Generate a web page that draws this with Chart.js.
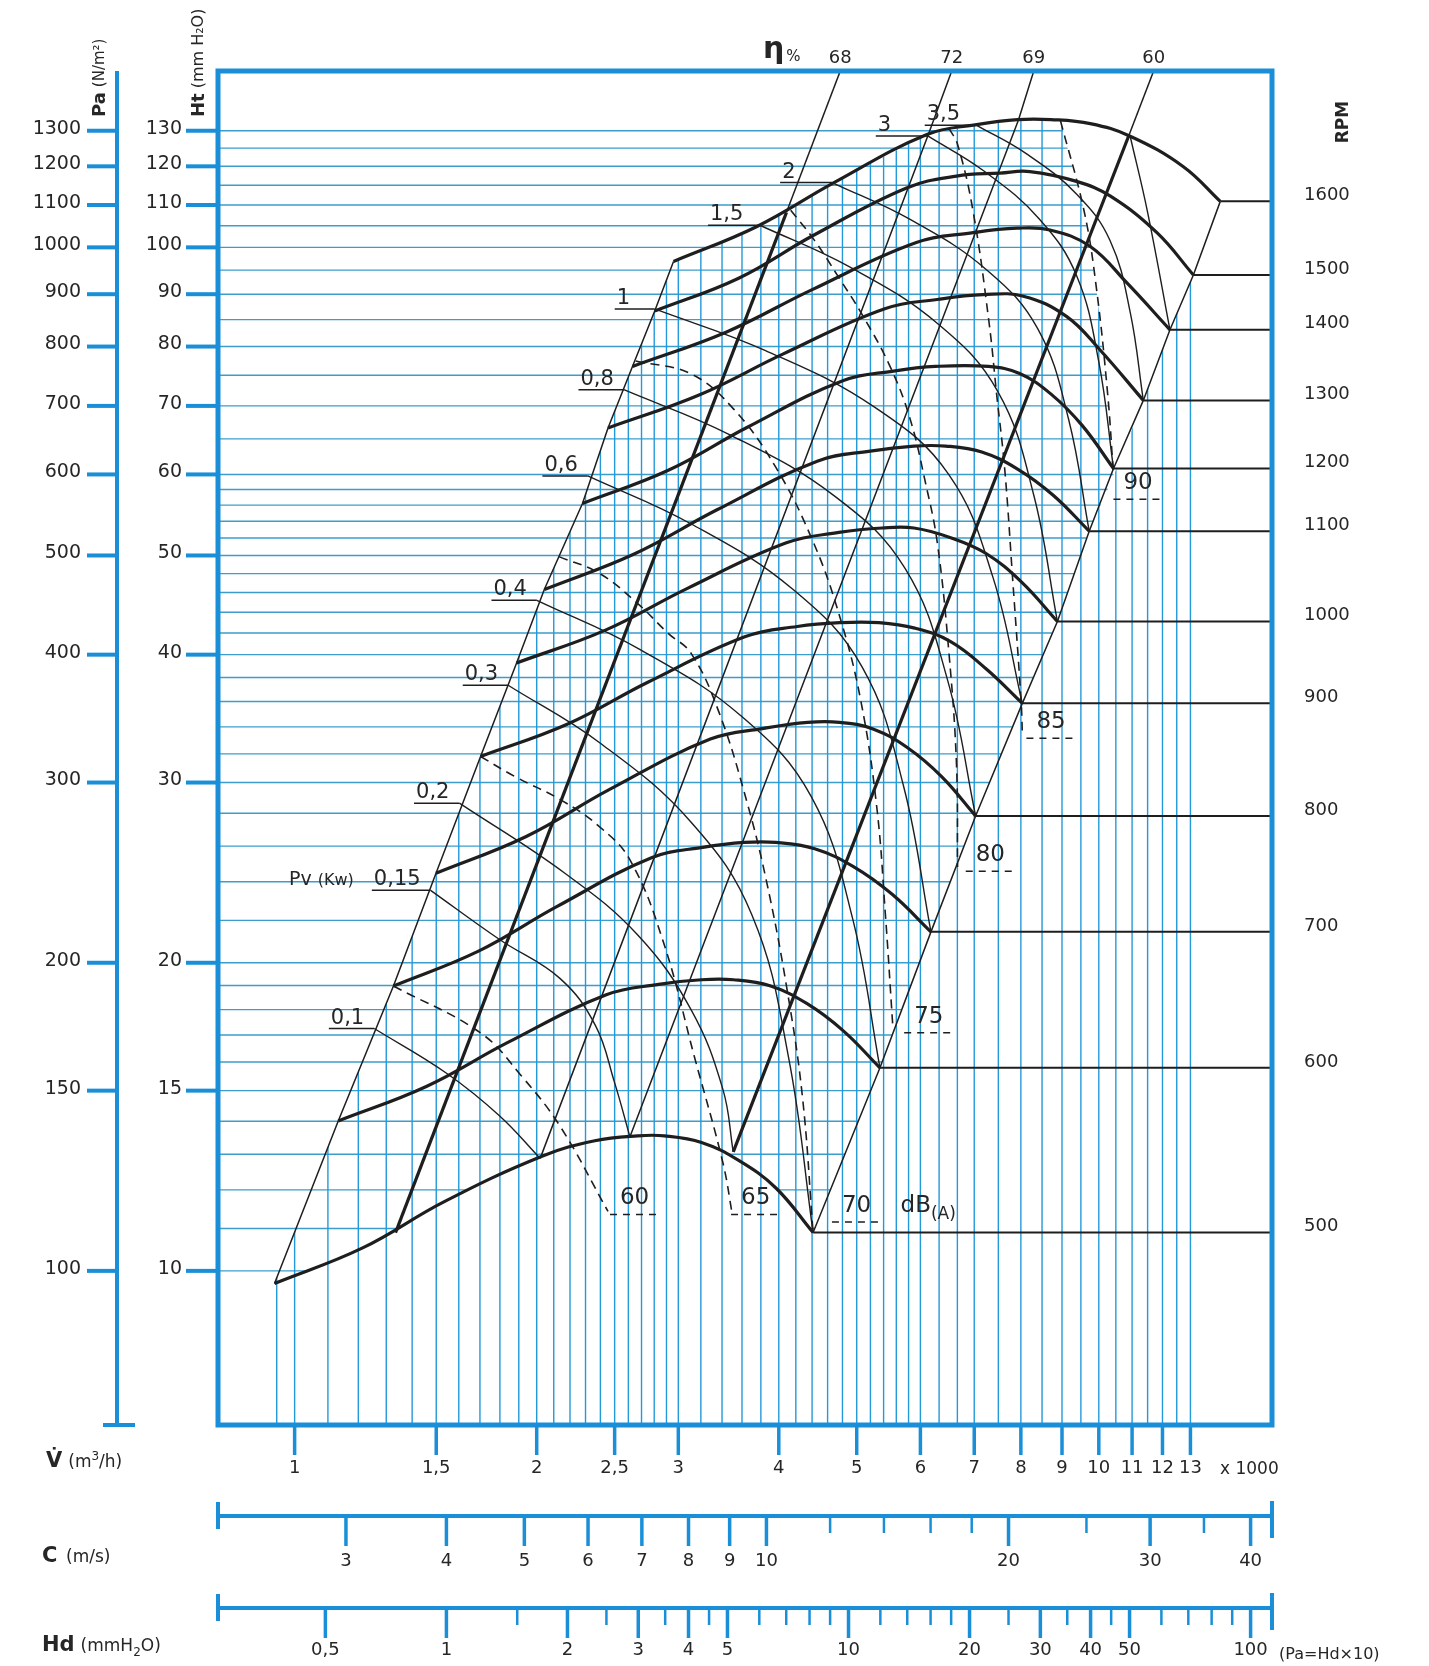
<!DOCTYPE html>
<html>
<head>
<meta charset="utf-8">
<title>Fan performance chart</title>
<script src="https://cdn.jsdelivr.net/npm/chart.js@4.4.1/dist/chart.umd.min.js"></script>
<style>
  html, body { margin: 0; padding: 0; background: #fff; }
  canvas { display: block; }
</style>
</head>
<body>
<canvas id="fan" width="1429" height="1666"></canvas>
<script>
// Ht (mm H2O) against V (m3/h x 1000), both log scales

const rpmValues = [500, 600, 700, 800, 900, 1000, 1100, 1200, 1300, 1400, 1500, 1600]

// [V x1000 m3/h, Ht mm H2O], left corner first, right corner last
const curve500 = [[0.944, 9.72], [1.215, 10.53], [1.533, 11.68], [2.034, 12.95], [2.362, 13.40], [2.671, 13.55], [2.883, 13.55], [3.206, 13.35], [3.566, 12.82], [3.967, 12.05], [4.413, 10.90]]
const curve600 = [[1.133, 14.01], [1.458, 15.14], [1.839, 16.71], [2.441, 18.61], [2.835, 19.05], [3.206, 19.25], [3.513, 19.25], [3.900, 18.99], [4.333, 18.25], [4.812, 17.16], [5.344, 15.79]]
const curve700 = [[1.327, 18.98], [1.693, 20.53], [2.118, 22.69], [2.783, 25.34], [3.217, 25.93], [3.622, 26.22], [3.967, 26.22], [4.433, 25.85], [4.953, 24.83], [5.534, 23.33], [6.184, 21.44]]
const curve800 = [[1.499, 24.46], [1.941, 26.57], [2.461, 29.52], [3.288, 33.08], [3.833, 33.89], [4.346, 34.35], [4.761, 34.35], [5.248, 33.83], [5.784, 32.44], [6.376, 30.40], [7.028, 27.83]]
const curve900 = [[1.703, 31.81], [2.186, 34.22], [2.749, 37.59], [3.636, 41.66], [4.217, 42.62], [4.761, 42.99], [5.328, 42.99], [5.905, 42.46], [6.543, 41.19], [7.252, 38.71], [8.033, 35.85]]
const curve1000 = [[1.888, 39.26], [2.435, 42.27], [3.075, 46.41], [4.088, 51.44], [4.752, 52.66], [5.377, 53.19], [5.890, 53.19], [6.529, 52.07], [7.233, 50.25], [8.017, 47.09], [8.882, 43.10]]
const curve1100 = [[2.044, 46.31], [2.644, 50.17], [3.347, 55.38], [4.465, 61.81], [5.198, 63.24], [5.890, 63.95], [6.453, 63.95], [7.152, 63.10], [7.925, 60.73], [8.783, 57.23], [9.729, 52.81]]
const curve1200 = [[2.280, 56.20], [2.915, 60.56], [3.651, 66.68], [4.804, 74.09], [5.556, 75.71], [6.260, 76.50], [7.289, 76.50], [7.972, 75.29], [8.722, 71.88], [9.539, 66.96], [10.43, 60.81]]
const curve1300 = [[2.453, 66.61], [3.184, 71.73], [4.046, 78.65], [5.418, 87.10], [6.324, 88.98], [7.178, 89.90], [8.058, 89.60], [9.115, 85.62], [10.03, 79.43], [11.36, 70.87]]
const curve1400 = [[2.631, 76.50], [3.439, 82.63], [4.395, 90.88], [5.931, 101.1], [6.948, 103.3], [7.912, 104.4], [8.695, 104.0], [9.759, 100.2], [10.84, 92.30], [12.26, 83.07]]
const curve1500 = [[2.804, 86.65], [3.566, 93.30], [4.413, 102.7], [5.767, 114.3], [6.653, 117.4], [7.537, 118.2], [8.208, 118.6], [9.382, 116.0], [10.34, 112.2], [11.82, 103.3], [13.11, 93.98]]
const curve1600 = [[2.959, 96.87], [3.758, 104.8], [4.679, 115.6], [6.113, 128.9], [7.049, 131.8], [7.927, 133.3], [8.720, 133.3], [9.757, 132.1], [10.94, 128.4], [12.74, 119.9], [14.16, 110.9]]
const rpmCurves = [curve500, curve600, curve700, curve800, curve900, curve1000, curve1100, curve1200, curve1300, curve1400, curve1500, curve1600]

// efficiency lines (eta %), bottom point, point on the top curve, top edge
const effLabels = ['68', '72', '69', '60']
const eff68 = [[1.335, 10.90], [4.089, 108.2], [4.790, 150]]
const eff72 = [[2.020, 12.88], [6.128, 128.5], [6.590, 150]]
const eff69 = [[2.612, 13.52], [7.945, 133.2], [8.330, 150]]
const eff60 = [[3.511, 13.07], [10.89, 128.4], [11.75, 150]]
const effLines = [eff68, eff72, eff69, eff60]
const effThick = [true, false, false, true]

// shaft power lines Pv (kW); the last one carries no label
const powerLabels = ['0,1', '0,15', '0,2', '0,3', '0,4', '0,6', '0,8', '1', '1,5', '2', '3', '3,5', '']
const pw01 = [[1.256, 17.25], [1.545, 15.60], [1.799, 14.17], [2.020, 12.88]]
const pw015 = [[1.476, 23.54], [1.802, 21.05], [2.139, 19.30], [2.365, 17.38], [2.498, 15.30], [2.612, 13.52]]
const pw02 = [[1.603, 28.64], [2.168, 24.46], [2.671, 21.29], [3.110, 18.01], [3.408, 15.05], [3.511, 13.07]]
const pw03 = [[1.843, 37.34], [2.395, 32.81], [3.112, 27.44], [3.705, 22.26], [4.114, 16.16], [4.413, 10.90]]
const pw04 = [[2.001, 45.20], [2.686, 40.48], [3.607, 34.75], [4.390, 29.06], [4.940, 22.11], [5.344, 15.79]]
const pw06 = [[2.315, 59.80], [3.109, 53.70], [4.175, 46.26], [5.081, 38.87], [5.717, 29.77], [6.184, 21.44]]
const pw08 = [[2.567, 72.60], [3.473, 65.63], [4.698, 57.11], [5.745, 48.53], [6.483, 37.82], [7.028, 27.83]]
const pw1 = [[2.804, 87.06], [3.845, 79.31], [5.273, 69.73], [6.509, 59.98], [7.384, 47.62], [8.033, 35.85]]
const pw15 = [[3.790, 105.1], [4.893, 95.74], [6.317, 84.12], [7.490, 72.29], [8.297, 57.35], [8.882, 43.10]]
const pw2 = [[4.660, 115.7], [5.811, 106.6], [7.250, 95.10], [8.398, 83.24], [9.173, 67.89], [9.729, 52.81]]
const pw3 = [[6.128, 128.5], [7.190, 118.8], [8.433, 106.6], [9.382, 93.86], [10.00, 77.29], [10.43, 60.81]]
const pw35 = [[7.050, 131.6], [8.133, 123.4], [9.387, 112.7], [10.33, 101.5], [10.94, 86.43], [11.36, 70.87]]
const pwTop = [[10.94, 128.4], [11.50, 108.2], [12.26, 83.07]]
const powerLines = [pw01, pw015, pw02, pw03, pw04, pw06, pw08, pw1, pw15, pw2, pw3, pw35, pwTop]

// noise lines dB(A), dashed
const dbLabels = ['60', '65', '70', '75', '80', '85', '90']
const db60 = [[1.327, 18.98], [1.703, 17.08], [1.911, 15.53], [2.139, 13.84], [2.453, 11.43]]
const db65 = [[1.703, 31.81], [1.880, 30.40], [2.145, 28.84], [2.393, 27.17], [2.612, 25.21], [2.873, 20.98], [3.148, 16.09], [3.408, 12.76], [3.502, 11.35]]
const db70 = [[2.132, 49.87], [2.393, 48.03], [2.669, 44.89], [2.914, 41.97], [3.112, 40.12], [3.371, 35.13], [3.649, 28.77], [3.863, 23.99], [4.089, 18.98], [4.280, 14.80], [4.413, 10.90]]
const db75 = [[2.655, 77.43], [3.110, 75.23], [3.513, 69.54], [3.967, 60.95], [4.413, 51.57], [4.761, 43.62], [5.060, 36.03], [5.296, 28.36], [5.427, 22.33], [5.543, 17.38]]
const db80 = [[4.139, 108.7], [4.426, 101.7], [4.747, 93.52], [5.075, 86.03], [5.493, 76.68], [5.818, 68.22], [6.090, 58.81], [6.298, 51.44], [6.512, 40.11], [6.653, 31.28], [6.673, 24.81]]
const db85 = [[6.512, 130.7], [6.673, 126.1], [6.975, 108.6], [7.300, 84.69], [7.466, 71.71], [7.638, 60.76], [7.815, 47.36], [8.008, 35.85], [8.033, 33.53]]
const db90 = [[8.962, 132.9], [9.583, 108.7], [9.918, 92.03], [10.26, 71.71], [10.43, 59.80]]
const dbLines = [db60, db65, db70, db75, db80, db85, db90]
const dbLabelAt = [[2.647, 11.77], [3.744, 11.77], [4.998, 11.57], [6.146, 17.71], [7.331, 25.47], [8.722, 34.35], [11.19, 58.81]]

// axes
const vTicks = [1, 1.5, 2, 2.5, 3, 4, 5, 6, 7, 8, 9, 10, 11, 12, 13]
const htTicks = [10, 15, 20, 30, 40, 50, 60, 70, 80, 90, 100, 110, 120, 130]
const paTicks = [100, 150, 200, 300, 400, 500, 600, 700, 800, 900, 1000, 1100, 1200, 1300]
const cTicks = [3, 4, 5, 6, 7, 8, 9, 10, 20, 30, 40]
const cMinor = [12, 14, 16, 18, 25, 35]
const hdTicks = [0.5, 1, 2, 3, 4, 5, 10, 20, 30, 40, 50, 100]
const hdMinor = [1.5, 2.5, 3.5, 4.5, 6, 7, 8, 9, 12, 14, 16, 18, 25, 35, 45, 60, 70, 80, 90]

// blue paper grid
const gridH = [10, 11, 12, 13, 14, 15, 16, 17, 18, 19, 20, 22, 24, 26, 28, 30, 32, 34, 36, 38, 40, 42, 44, 46, 48, 50, 52, 54, 56, 58, 60, 65, 70, 75, 80, 85, 90, 95, 100, 105, 110, 115, 120, 125, 130]
const gridV = [0.95, 1, 1.1, 1.2, 1.3, 1.4, 1.5, 1.6, 1.7, 1.8, 1.9, 2, 2.1, 2.2, 2.3, 2.4, 2.5, 2.6, 2.7, 2.8, 2.9, 3, 3.2, 3.4, 3.6, 3.8, 4, 4.2, 4.4, 4.6, 4.8, 5, 5.2, 5.4, 5.6, 5.8, 6, 6.33, 6.67, 7, 7.5, 8, 8.5, 9, 9.5, 10, 10.5, 11, 11.5, 12, 12.5, 13]

const X_MIN = 0.803
const X_MAX = 16.42
const Y_MIN = 7.07
const Y_MAX = 148.7
const K_C = 2.59    // C (m/s) for 1000 m3/h
const K_HD = 16     // Hd = C^2 / 16

const FONT = "'DejaVu Sans', 'Liberation Sans', sans-serif"
const BLUE = '#1a8fd8'
const GRID_H = '#3a9dcc'
const GRID_V = '#2399da'
const INK = '#1e1e1e'
const TEXT = '#262626'

function xy (pts) {
  return pts.map(p => ({ x: p[0], y: p[1] }))
}

function fmt (v) {
  return String(v).replace('.', ',')
}

function seg (ctx, x1, y1, x2, y2) {
  ctx.beginPath()
  ctx.moveTo(x1, y1)
  ctx.lineTo(x2, y2)
  ctx.stroke()
}

function toPx (chart, p) {
  return [chart.scales.x.getPixelForValue(p[0]), chart.scales.y.getPixelForValue(p[1])]
}

function clipTo (ctx, poly) {
  ctx.beginPath()
  poly.forEach((p, i) => i ? ctx.lineTo(p[0], p[1]) : ctx.moveTo(p[0], p[1]))
  ctx.closePath()
  ctx.clip()
}

function drawGrid (chart) {
  const ctx = chart.ctx
  const a = chart.chartArea
  const P = p => toPx(chart, p)
  const lefts = rpmCurves.map(c => c[0])
  const rights = rpmCurves.map(c => c[c.length - 1])

  // horizontal lines run from the frame to the 90 dB line and the right boundary
  let hPoly = [[a.left, a.top], [P(db90[0])[0], a.top]]
  db90.forEach(p => hPoly.push(P(p)))
  for (let i = 6; i >= 0; i--) hPoly.push(P(rights[i]))
  for (let i = curve500.length - 2; i >= 0; i--) hPoly.push(P(curve500[i]))
  hPoly.push([a.left, P(curve500[0])[1]])

  // vertical lines run from the bottom frame up to the edge of the field
  let vPoly = [[P(lefts[0])[0], a.bottom]]
  lefts.forEach(p => vPoly.push(P(p)))
  curve1600.slice(1).filter(p => p[0] < db90[0][0]).forEach(p => vPoly.push(P(p)))
  db90.forEach(p => vPoly.push(P(p)))
  for (let i = 8; i < rights.length; i++) vPoly.push(P(rights[i]))
  vPoly.push([P(rights[rights.length - 1])[0], a.bottom])

  ctx.save()
  ctx.lineWidth = 1.4
  ctx.strokeStyle = GRID_H
  clipTo(ctx, hPoly)
  gridH.forEach(h => {
    let y = chart.scales.y.getPixelForValue(h)
    seg(ctx, a.left, y, a.right, y)
  })
  ctx.restore()

  ctx.save()
  ctx.lineWidth = 1.4
  ctx.strokeStyle = GRID_V
  clipTo(ctx, vPoly)
  gridV.forEach(v => {
    let x = chart.scales.x.getPixelForValue(v)
    seg(ctx, x, a.top, x, a.bottom)
  })
  ctx.restore()
}

function topCrossing (chart, pts) {
  const p1 = toPx(chart, pts[pts.length - 2])
  const p2 = toPx(chart, pts[pts.length - 1])
  const t = (chart.chartArea.top - p1[1]) / (p2[1] - p1[1])
  return p1[0] + t * (p2[0] - p1[0])
}

function drawLabels (chart) {
  const ctx = chart.ctx
  const a = chart.chartArea
  const P = p => toPx(chart, p)
  ctx.save()
  ctx.fillStyle = TEXT
  ctx.strokeStyle = INK

  // power labels sit on an underline that runs to the start of each line
  ctx.font = '21px ' + FONT
  ctx.textAlign = 'left'
  ctx.textBaseline = 'alphabetic'
  ctx.lineWidth = 1.5
  let pvLeft = 0
  let pvBase = 0
  powerLines.forEach((pl, i) => {
    if (!powerLabels[i]) return
    const s = P(pl[0])
    const w = ctx.measureText(powerLabels[i]).width
    const len = Math.max(w + 12, i >= 8 ? 52 : 40)
    ctx.fillText(powerLabels[i], s[0] - len + 2, s[1] - 5)
    seg(ctx, s[0] - len, s[1], s[0], s[1])
    if (powerLabels[i] === '0,15') {
      pvLeft = s[0] - len + 2
      pvBase = s[1] - 5
    }
  })
  ctx.textAlign = 'right'
  ctx.font = '16px ' + FONT
  ctx.fillText('(Kw)', pvLeft - 20, pvBase)
  const kw = ctx.measureText('(Kw)').width
  ctx.font = '19px ' + FONT
  ctx.fillText('Pv', pvLeft - 26 - kw, pvBase)

  // noise labels with dashed underline
  ctx.textAlign = 'center'
  ctx.textBaseline = 'middle'
  ctx.font = '23px ' + FONT
  ctx.lineWidth = 1.5
  dbLabels.forEach((lab, i) => {
    const c = P(dbLabelAt[i])
    const w = ctx.measureText(lab).width
    ctx.fillText(lab, c[0], c[1])
    ctx.setLineDash([7, 6])
    seg(ctx, c[0] - w / 2 - 10, c[1] + 16, c[0] + w / 2 + 12, c[1] + 16)
    ctx.setLineDash([])
  })
  const d70 = P(dbLabelAt[2])
  ctx.textAlign = 'left'
  ctx.fillText('dB', d70[0] + 44, d70[1])
  const dbw = ctx.measureText('dB').width
  ctx.font = '17px ' + FONT
  ctx.fillText('(A)', d70[0] + 44 + dbw, d70[1] + 9)

  // efficiency labels above the frame
  ctx.textAlign = 'center'
  ctx.textBaseline = 'alphabetic'
  ctx.font = '18px ' + FONT
  let x68 = 0
  effLines.forEach((e, i) => {
    const x = topCrossing(chart, e)
    if (i === 0) x68 = x
    ctx.fillText(effLabels[i], x, a.top - 8)
  })
  ctx.textAlign = 'left'
  ctx.font = '15px ' + FONT
  ctx.fillText('%', x68 - 54, a.top - 10)
  ctx.textAlign = 'right'
  ctx.font = 'bold 30px ' + FONT
  ctx.fillText('η', x68 - 56, a.top - 13)
  ctx.restore()
}

function rotatedTitle (ctx, bold, rest, x, yBottom, size) {
  ctx.save()
  ctx.translate(x, yBottom)
  ctx.rotate(-Math.PI / 2)
  ctx.textAlign = 'left'
  ctx.textBaseline = 'middle'
  ctx.font = 'bold 18px ' + FONT
  ctx.fillText(bold, 0, 0)
  const w = ctx.measureText(bold).width
  ctx.font = size + 'px ' + FONT
  ctx.fillText(rest, w + 5, 0)
  ctx.restore()
}

function drawFrame (chart) {
  const ctx = chart.ctx
  const a = chart.chartArea
  const sc = chart.scales
  ctx.save()
  ctx.strokeStyle = BLUE
  ctx.lineCap = 'butt'

  ctx.lineWidth = 5
  ctx.strokeRect(a.left, a.top, a.right - a.left, a.bottom - a.top)

  // flow ticks under the frame
  ctx.lineWidth = 3.5
  vTicks.forEach(v => {
    let x = sc.x.getPixelForValue(v)
    seg(ctx, x, a.bottom, x, a.bottom + 30)
  })

  // Ht ticks
  ctx.lineWidth = 4
  htTicks.forEach(h => {
    let y = sc.y.getPixelForValue(h)
    seg(ctx, a.left - 32, y, a.left, y)
  })

  // Pa axis
  const px = sc.yPa.right
  seg(ctx, px, a.top, px, a.bottom)
  seg(ctx, px - 14, a.bottom, px + 18, a.bottom)
  paTicks.forEach(p => {
    let y = sc.yPa.getPixelForValue(p)
    seg(ctx, px - 30, y, px, y)
  })

  // C and Hd axes
  const bars = [[sc.xC, cTicks, cMinor], [sc.xHd, hdTicks, hdMinor]]
  bars.forEach(b => {
    const s = b[0]
    const y0 = s.top
    ctx.lineWidth = 4
    seg(ctx, a.left, y0, a.right, y0)
    seg(ctx, a.left, y0 - 14, a.left, y0 + 13)
    seg(ctx, a.right, y0 - 15, a.right, y0 + 22)
    ctx.lineWidth = 3.5
    b[1].forEach(v => {
      let x = s.getPixelForValue(v)
      seg(ctx, x, y0, x, y0 + 30)
    })
    ctx.lineWidth = 2.5
    b[2].forEach(v => {
      let x = s.getPixelForValue(v)
      seg(ctx, x, y0, x, y0 + 17)
    })
  })
  ctx.restore()

  // axis titles
  ctx.save()
  ctx.fillStyle = TEXT
  rotatedTitle(ctx, 'Pa', '(N/m²)', 100, 117, 15)
  rotatedTitle(ctx, 'Ht', '(mm H₂O)', 199, 117, 16)
  ctx.save()
  ctx.translate(1344, 122)
  ctx.rotate(-Math.PI / 2)
  ctx.font = 'bold 17px ' + FONT
  ctx.textAlign = 'center'
  ctx.textBaseline = 'middle'
  ctx.fillText('RPM', 0, 0)
  ctx.restore()

  ctx.textAlign = 'left'
  ctx.textBaseline = 'alphabetic'
  let x = 46
  ctx.font = 'bold 21px ' + FONT
  ctx.fillText('V\u0307', x, 1467)
  x += ctx.measureText('V\u0307').width + 6
  ctx.font = '17px ' + FONT
  ctx.fillText('(m', x, 1467)
  x += ctx.measureText('(m').width
  ctx.font = '12px ' + FONT
  ctx.fillText('3', x, 1460)
  x += ctx.measureText('3').width
  ctx.font = '17px ' + FONT
  ctx.fillText('/h)', x, 1467)

  ctx.font = 'bold 21px ' + FONT
  ctx.fillText('C', 42, 1562)
  ctx.font = '17px ' + FONT
  ctx.fillText('(m/s)', 42 + 24, 1562)

  x = 42
  ctx.font = 'bold 21px ' + FONT
  ctx.fillText('Hd', x, 1651)
  x += ctx.measureText('Hd').width + 6
  ctx.font = '17px ' + FONT
  ctx.fillText('(mmH', x, 1651)
  x += ctx.measureText('(mmH').width
  ctx.font = '12px ' + FONT
  ctx.fillText('2', x, 1656)
  x += ctx.measureText('2').width
  ctx.font = '17px ' + FONT
  ctx.fillText('O)', x, 1651)

  ctx.font = '17px ' + FONT
  ctx.fillText('x 1000', 1220, 1474)
  ctx.font = '16px ' + FONT
  ctx.fillText('(Pa=Hd×10)', 1279, 1659)
  ctx.restore()
}

const fanPlugin = {
  id: 'fanPaper',
  beforeDraw (chart) {
    const ctx = chart.ctx
    ctx.save()
    ctx.fillStyle = '#ffffff'
    ctx.fillRect(0, 0, chart.width, chart.height)
    ctx.restore()
  },
  beforeDatasetsDraw (chart) {
    drawGrid(chart)
  },
  afterDatasetsDraw (chart) {
    drawLabels(chart)
    drawFrame(chart)
  }
}

// datasets
let datasets = []
function addLine (pts, opts) {
  datasets.push(Object.assign({
    data: xy(pts),
    showLine: true,
    borderColor: INK,
    borderWidth: 1.5,
    pointRadius: 0,
    fill: false,
    borderJoinStyle: 'round'
  }, opts))
}

rpmCurves.forEach(c => {
  addLine(c, { borderWidth: 3.2, tension: 0.4 })
  const r = c[c.length - 1]
  addLine([r, [X_MAX, r[1]]], { borderWidth: 2 })
})
addLine(rpmCurves.map(c => c[0]), { borderWidth: 1.5 })
addLine(rpmCurves.map(c => c[c.length - 1]), { borderWidth: 1.5 })
effLines.forEach((e, i) => {
  addLine(e, {
    borderWidth: 1.5,
    segment: { borderWidth: ctx => (effThick[i] && ctx.p0DataIndex === 0) ? 3.2 : 1.5 }
  })
})
powerLines.forEach(p => addLine(p, { borderWidth: 1.4, tension: 0.4 }))
dbLines.forEach(d => addLine(d, { borderWidth: 1.6, borderDash: [9, 6], tension: 0.4 }))

function fixedTicks (values) {
  return scale => { scale.ticks = values.map(v => ({ value: v })) }
}

const tickFont = { family: FONT, size: 18 }
const noGrid = { display: false, drawTicks: false }

const chart = new Chart(document.getElementById('fan'), {
  type: 'scatter',
  data: { datasets: datasets },
  options: {
    responsive: false,
    animation: false,
    devicePixelRatio: 1,
    layout: { autoPadding: false, padding: { top: 71, left: 0, right: 0, bottom: 0 } },
    plugins: { legend: { display: false }, tooltip: { enabled: false } },
    scales: {
      x: {
        type: 'logarithmic', position: 'bottom', weight: 0, min: X_MIN, max: X_MAX,
        border: { display: false }, grid: noGrid,
        afterBuildTicks: fixedTicks(vTicks),
        afterFit: s => { s.height = 91 },
        ticks: { autoSkip: false, maxRotation: 0, padding: 33, font: tickFont, color: TEXT, callback: v => fmt(v) }
      },
      xC: {
        type: 'logarithmic', position: 'bottom', weight: 1, min: X_MIN * K_C, max: X_MAX * K_C,
        border: { display: false }, grid: noGrid,
        afterBuildTicks: fixedTicks(cTicks),
        afterFit: s => { s.height = 92 },
        ticks: { autoSkip: false, maxRotation: 0, padding: 35, font: tickFont, color: TEXT, callback: v => fmt(v) }
      },
      xHd: {
        type: 'logarithmic', position: 'bottom', weight: 2,
        min: Math.pow(X_MIN * K_C, 2) / K_HD, max: Math.pow(X_MAX * K_C, 2) / K_HD,
        border: { display: false }, grid: noGrid,
        afterBuildTicks: fixedTicks(hdTicks),
        afterFit: s => { s.height = 58 },
        ticks: { autoSkip: false, maxRotation: 0, padding: 32, font: tickFont, color: TEXT, callback: v => fmt(v) }
      },
      y: {
        type: 'logarithmic', position: 'left', weight: 0, min: Y_MIN, max: Y_MAX,
        border: { display: false }, grid: noGrid,
        afterBuildTicks: fixedTicks(htTicks),
        afterFit: s => { s.width = 101 },
        ticks: { autoSkip: false, padding: 36, font: { family: FONT, size: 19 }, color: TEXT, labelOffset: -2, callback: v => String(v) }
      },
      yPa: {
        type: 'logarithmic', position: 'left', weight: 1, min: Y_MIN * 10, max: Y_MAX * 10,
        border: { display: false }, grid: noGrid,
        afterBuildTicks: fixedTicks(paTicks),
        afterFit: s => { s.width = 117 },
        ticks: { autoSkip: false, padding: 36, font: { family: FONT, size: 19 }, color: TEXT, labelOffset: -2, callback: v => String(v) }
      },
      yRpm: {
        type: 'logarithmic', position: 'right', weight: 0, min: Y_MIN, max: Y_MAX,
        border: { display: false }, grid: noGrid,
        afterBuildTicks: fixedTicks(rpmCurves.map(c => c[c.length - 1][1])),
        afterFit: s => { s.width = 157 },
        ticks: { autoSkip: false, padding: 32, font: tickFont, color: TEXT, labelOffset: -6, callback: (v, i) => String(rpmValues[i]) }
      }
    }
  },
  plugins: [fanPlugin]
})
</script>
</body>
</html>
